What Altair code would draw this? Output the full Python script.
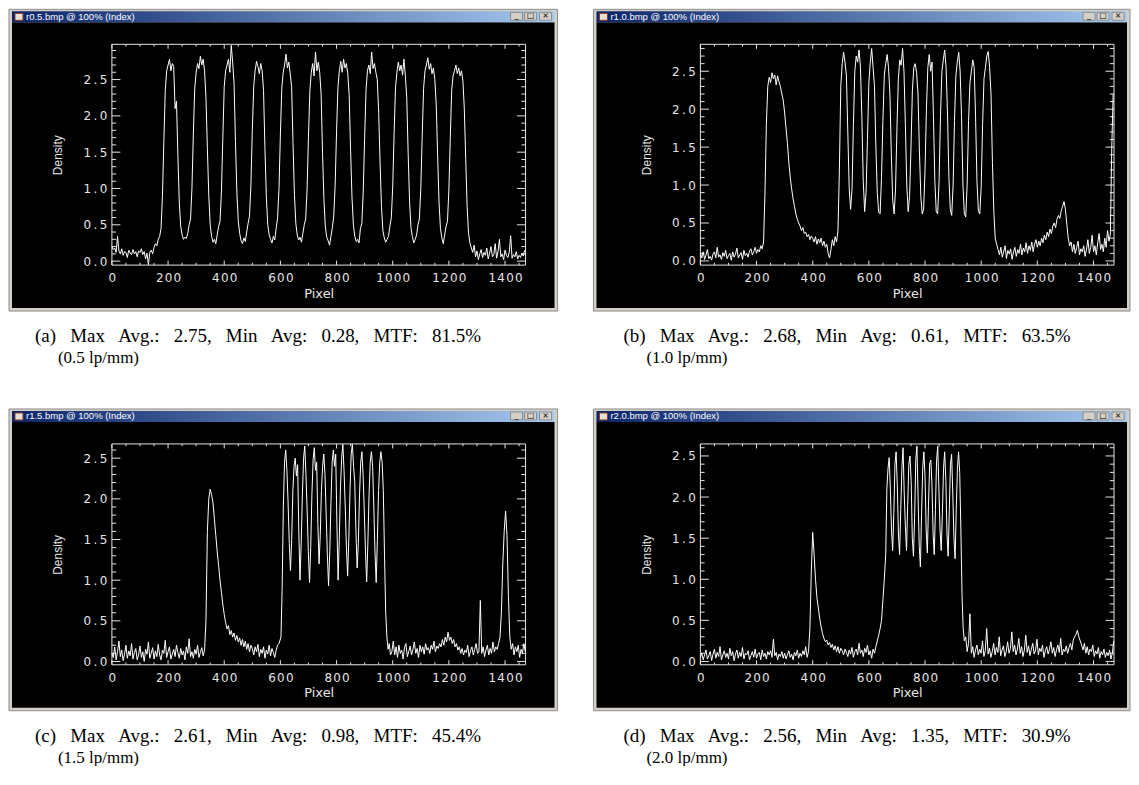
import altair as alt
import pandas as pd

# ---------------- data ----------------
X_DOMAIN = [0, 1473]
X_MAJOR = [0, 200, 400, 600, 800, 1000, 1200, 1400]
X_MINOR = [50, 100, 150, 250, 300, 350, 450, 500, 550, 650, 700, 750, 850, 900, 950,
           1050, 1100, 1150, 1250, 1300, 1350, 1450]
Y_MAJOR = [0.0, 0.5, 1.0, 1.5, 2.0, 2.5]
Y_MINOR = [0.1, 0.2, 0.3, 0.4, 0.6, 0.7, 0.8, 0.9, 1.1, 1.2, 1.3, 1.4, 1.6, 1.7, 1.8, 1.9,
           2.1, 2.2, 2.3, 2.4, 2.6, 2.7, 2.8, 2.9]

WINDOW_TITLES = ["r0.5.bmp @ 100% (Index)", "r1.0.bmp @ 100% (Index)",
                 "r1.5.bmp @ 100% (Index)", "r2.0.bmp @ 100% (Index)"]
CAPTION_1 = ["(a) Max Avg.: 2.75, Min Avg: 0.28, MTF: 81.5%",
             "(b) Max Avg.: 2.68, Min Avg: 0.61, MTF: 63.5%",
             "(c) Max Avg.: 2.61, Min Avg: 0.98, MTF: 45.4%",
             "(d) Max Avg.: 2.56, Min Avg: 1.35, MTF: 30.9%"]
CAPTION_2 = ["(0.5 lp/mm)", "(1.0 lp/mm)", "(1.5 lp/mm)", "(2.0 lp/mm)"]
Y_DOMAINS = [[-0.055, 2.985], [-0.055, 2.855], [-0.04, 2.675], [-0.04, 2.646]]

# each profile: list of (first pixel, last pixel, density samples)
A_SEGS = [
    (0, 170, [0.20, 0.16, 0.18, 0.12, 0.34, 0.14, 0.10, 0.17, 0.08, 0.13, 0.12, 0.05, 0.15, 0.11,
              0.09, 0.16, 0.10, 0.13, 0.06, 0.14, 0.12, 0.17, 0.09, 0.13, 0.03, 0.11, -0.05, 0.12,
              0.15, 0.10, 0.19, 0.24, 0.21, 0.30, 0.34]),
    (175, 275, [0.45, 0.90, 1.65, 2.35, 2.62, 2.70, 2.78, 2.62, 2.72, 2.68, 2.10, 2.20, 1.45, 0.80,
                0.48, 0.36, 0.30, 0.33, 0.31, 0.38, 0.50]),
    (280, 380, [0.58, 1.00, 1.75, 2.38, 2.60, 2.72, 2.65, 2.82, 2.70, 2.78, 2.62, 2.25, 1.55, 0.90,
                0.50, 0.34, 0.26, 0.30, 0.24, 0.36, 0.48]),
    (385, 485, [0.55, 0.95, 1.70, 2.40, 2.62, 2.70, 2.78, 2.60, 2.97, 2.74, 2.45, 1.65, 0.95, 0.55,
                0.38, 0.28, 0.24, 0.32, 0.27, 0.40, 0.52]),
    (490, 585, [0.62, 1.05, 1.80, 2.40, 2.62, 2.75, 2.68, 2.58, 2.72, 2.62, 2.35, 1.55, 0.88, 0.50,
                0.36, 0.30, 0.25, 0.34, 0.29, 0.45]),
    (590, 685, [0.60, 1.00, 1.75, 2.38, 2.60, 2.70, 2.85, 2.66, 2.74, 2.58, 2.40, 1.62, 0.92, 0.52,
                0.36, 0.29, 0.33, 0.26, 0.38, 0.50]),
    (690, 785, [0.58, 0.98, 1.72, 2.35, 2.60, 2.72, 2.55, 2.88, 2.62, 2.74, 2.60, 2.30, 1.50, 0.85,
                0.48, 0.33, 0.28, 0.22, 0.34, 0.46]),
    (790, 885, [0.62, 1.05, 1.78, 2.40, 2.62, 2.75, 2.60, 2.78, 2.66, 2.72, 2.58, 2.28, 1.52, 0.88,
                0.50, 0.34, 0.27, 0.30, 0.25, 0.45]),
    (890, 990, [0.52, 0.95, 1.70, 2.36, 2.62, 2.70, 2.58, 2.88, 2.65, 2.72, 2.60, 2.50, 2.05, 1.35,
                0.75, 0.42, 0.32, 0.26, 0.30, 0.34, 0.48]),
    (995, 1090, [0.60, 1.02, 1.76, 2.40, 2.60, 2.74, 2.62, 2.70, 2.56, 2.78, 2.55, 2.25, 1.48, 0.82,
                 0.46, 0.34, 0.25, 0.30, 0.36, 0.50]),
    (1095, 1190, [0.58, 1.00, 1.72, 2.38, 2.62, 2.70, 2.80, 2.64, 2.72, 2.58, 2.66, 2.50, 2.15, 1.45,
                  0.80, 0.45, 0.32, 0.24, 0.36, 0.48]),
    (1195, 1280, [0.55, 0.98, 1.70, 2.35, 2.55, 2.62, 2.70, 2.58, 2.66, 2.55, 2.62, 2.48, 2.10, 1.40,
                  0.75, 0.38, 0.25, 0.18]),
    (1285, 1470, [0.12, 0.22, 0.06, 0.14, 0.02, 0.10, 0.16, 0.05, 0.12, 0.08, 0.18, 0.03, 0.11, 0.20,
                  0.06, 0.09, 0.24, 0.04, 0.13, 0.30, 0.06, 0.10, 0.02, 0.15, 0.08, 0.05, 0.12, 0.35,
                  0.04, 0.09, 0.06, 0.13, 0.03, 0.08, 0.05, 0.11, 0.07, 0.15]),
]

B_SEGS = [
    (0, 485, [0.10, 0.04, 0.12, 0.02, 0.08, 0.15, 0.03, 0.06, 0.01, 0.09,
              0.12, 0.04, 0.18, 0.05, 0.08, 0.02, 0.11, 0.06, 0.14, 0.03,
              0.07, 0.10, 0.01, 0.12, 0.05, 0.09, 0.17, 0.04, 0.08, 0.11,
              0.02, 0.14, 0.07, 0.10, 0.05, 0.13, 0.16, 0.08, 0.12, 0.18,
              0.10, 0.15, 0.12, 0.20, 0.16, 0.25, 0.90, 1.80, 2.30, 2.42,
              2.35, 2.48, 2.40, 2.45, 2.32, 2.44, 2.36, 2.30, 2.20, 2.12,
              1.95, 1.75, 1.55, 1.30, 1.10, 0.95, 0.82, 0.72, 0.62, 0.55,
              0.50, 0.46, 0.40, 0.44, 0.36, 0.38, 0.32, 0.35, 0.28, 0.33,
              0.30, 0.25, 0.32, 0.22, 0.29, 0.24, 0.30, 0.20, 0.26, 0.18,
              0.22, 0.10, 0.04, 0.15, 0.28, 0.20, 0.32, 0.25]),
    (490, 1050, [0.40, 1.20, 2.30, 2.60, 2.75, 2.62, 2.45, 1.70, 0.95, 0.68,
                 0.95, 1.80, 2.50, 2.70, 2.62, 2.78, 2.55, 1.90, 1.05, 0.65,
                 0.90, 1.60, 2.35, 2.62, 2.80, 2.55, 2.30, 1.50, 0.90, 0.64,
                 0.62, 1.10, 1.85, 2.45, 2.60, 2.72, 2.55, 2.20, 1.40, 0.80,
                 0.62, 0.95, 1.75, 2.40, 2.65, 2.58, 2.80, 2.50, 1.80, 1.00,
                 0.65, 0.85, 1.50, 2.25, 2.55, 2.60, 2.48, 2.20, 1.45, 0.85,
                 0.62, 0.68, 1.20, 2.00, 2.55, 2.72, 2.50, 2.62, 1.90, 1.05,
                 0.65, 0.62, 1.05, 1.90, 2.50, 2.65, 2.78, 2.55, 1.95, 1.10,
                 0.68, 0.60, 1.00, 1.85, 2.45, 2.62, 2.75, 2.50, 1.90, 1.00,
                 0.62, 0.58, 1.00, 1.85, 2.35, 2.50, 2.65, 2.55, 1.90, 1.05,
                 0.66, 0.62, 0.98, 1.80, 2.40, 2.55, 2.70, 2.76, 2.55, 2.20,
                 1.30, 0.65, 0.30]),
    (1055, 1470, [0.22, 0.15, 0.08, 0.18, 0.05, 0.12, 0.20, 0.03, 0.14, 0.09,
                  0.16, 0.02, 0.12, 0.18, 0.06, 0.15, 0.10, 0.22, 0.08, 0.17,
                  0.12, 0.24, 0.10, 0.20, 0.14, 0.25, 0.12, 0.22, 0.28, 0.18,
                  0.26, 0.20, 0.30, 0.24, 0.34, 0.28, 0.38, 0.32, 0.42, 0.36,
                  0.46, 0.50, 0.44, 0.55, 0.60, 0.56, 0.66, 0.72, 0.78, 0.68,
                  0.48, 0.30, 0.20, 0.25, 0.12, 0.22, 0.10, 0.18, 0.26, 0.08,
                  0.16, 0.12, 0.20, 0.06, 0.15, 0.28, 0.10, 0.18, 0.34, 0.12,
                  0.20, 0.08, 0.24, 0.36, 0.15, 0.22, 0.12, 0.30, 0.18, 0.40,
                  0.26, 0.35, 1.50, 2.20]),
]

C_SEGS = [
    (0, 330, [0.10, 0.05, 0.18, 0.02, 0.12, 0.25, 0.06, 0.14, 0.01, 0.09,
              0.20, 0.04, 0.13, 0.07, 0.22, 0.03, 0.11, 0.16, 0.02, 0.08,
              0.19, 0.05, 0.12, 0.00, 0.15, 0.09, 0.24, 0.04, 0.10, 0.17,
              0.03, 0.13, 0.06, 0.21, 0.08, 0.02, 0.14, 0.10, 0.26, 0.05,
              0.12, 0.18, 0.03, 0.09, 0.15, 0.06, 0.20, 0.11, 0.04, 0.16,
              0.08, 0.13, 0.02, 0.18, 0.10, 0.28, 0.06, 0.12, 0.04, 0.15,
              0.09, 0.20, 0.05, 0.11, 0.17, 0.07, 0.14]),
    (335, 595, [0.50, 1.60, 2.00, 2.12, 2.05, 1.95, 1.75, 1.55, 1.35, 1.18,
                1.00, 0.85, 0.70, 0.58, 0.48, 0.40, 0.44, 0.33, 0.38, 0.30,
                0.35, 0.26, 0.32, 0.24, 0.29, 0.20, 0.27, 0.18, 0.25, 0.15,
                0.22, 0.12, 0.20, 0.16, 0.08, 0.18, 0.12, 0.21, 0.06, 0.15,
                0.10, 0.18, 0.04, 0.14, 0.09, 0.20, 0.07, 0.16, 0.11, 0.05,
                0.14, 0.20, 0.22]),
    (602, 992, [0.30, 0.90, 1.90, 2.45, 2.60, 2.35, 1.95, 1.45,
                1.12, 1.50, 2.10, 2.40, 2.50, 2.28, 2.42, 1.60,
                1.00, 1.45, 2.05, 2.50, 2.65, 2.30, 1.85, 1.35,
                0.97, 1.40, 2.05, 2.48, 2.63, 2.35, 2.45, 1.70,
                1.20, 1.55, 2.10, 2.40, 2.55, 2.30, 1.80, 1.30,
                0.93, 1.35, 1.95, 2.45, 2.60, 2.40, 2.55, 1.70,
                1.00, 1.50, 2.15, 2.50, 2.67, 2.35, 1.90, 1.40,
                1.05, 1.50, 2.10, 2.55, 2.67, 2.40, 2.20, 1.60,
                1.15, 1.45, 2.05, 2.45, 2.58, 2.30, 1.85, 1.35,
                0.98, 1.45, 2.05, 2.45, 2.58, 2.40, 1.90, 1.35,
                0.97, 1.50, 2.10, 2.45, 2.58, 2.45, 2.10, 1.30,
                0.60, 0.30, 0.15, 0.22, 0.08]),
    (997, 1472, [0.12, 0.25, 0.08, 0.18, 0.05, 0.20, 0.10, 0.14, 0.03, 0.17,
                 0.22, 0.06, 0.12, 0.19, 0.08, 0.15, 0.24, 0.10, 0.16, 0.05,
                 0.20, 0.12, 0.18, 0.09, 0.22, 0.14, 0.17, 0.10, 0.20, 0.15,
                 0.25, 0.12, 0.19, 0.16, 0.22, 0.18, 0.27, 0.20, 0.30, 0.24,
                 0.36, 0.26, 0.30, 0.22, 0.27, 0.18, 0.22, 0.14, 0.18, 0.10,
                 0.16, 0.08, 0.14, 0.11, 0.20, 0.06, 0.13, 0.18, 0.08, 0.15,
                 0.22, 0.10, 0.12, 0.75, 0.10, 0.18, 0.06, 0.14, 0.20, 0.08,
                 0.16, 0.10, 0.24, 0.12, 0.18, 0.15, 0.22, 0.30, 0.60, 1.20,
                 1.60, 1.85, 1.55, 0.80, 0.30, 0.15, 0.22, 0.08, 0.18, 0.12,
                 0.20, 0.05, 0.15, 0.10, 0.22, 0.12]),
]

D_SEGS = [
    (0, 385, [0.05, 0.10, 0.02, 0.08, 0.14, 0.03, 0.07, 0.12, 0.01, 0.09,
              0.15, 0.04, 0.11, 0.06, 0.18, 0.02, 0.08, 0.13, 0.05, 0.10,
              0.03, 0.16, 0.07, 0.12, 0.01, 0.09, 0.14, 0.04, 0.11, 0.06,
              0.17, 0.03, 0.10, 0.08, 0.13, 0.02, 0.07, 0.12, 0.05, 0.15,
              0.04, 0.09, 0.11, 0.02, 0.14, 0.06, 0.10, 0.03, 0.12, 0.08,
              0.13, 0.05, 0.27, 0.07, 0.11, 0.02, 0.09, 0.06, 0.12, 0.04,
              0.10, 0.03, 0.08, 0.13, 0.05, 0.09, 0.02, 0.11, 0.07, 0.14,
              0.04, 0.10, 0.06, 0.13, 0.08, 0.18, 0.05, 0.12]),
    (390, 655, [0.40, 1.10, 1.57, 1.30, 1.00, 0.78, 0.65, 0.52, 0.42, 0.34,
                0.28, 0.24, 0.26, 0.20, 0.23, 0.17, 0.21, 0.14, 0.19, 0.12,
                0.18, 0.10, 0.16, 0.13, 0.08, 0.15, 0.11, 0.06, 0.14, 0.09,
                0.17, 0.05, 0.12, 0.15, 0.08, 0.22, 0.10, 0.14, 0.06, 0.16,
                0.11, 0.20, 0.08, 0.13, 0.04, 0.15, 0.10, 0.18, 0.25, 0.32,
                0.40, 0.50, 0.75, 1.00]),
    (660, 940, [1.30, 2.10, 2.35, 2.48, 2.10, 1.60,
                1.35, 1.80, 2.40, 2.55, 2.15, 1.55,
                1.30, 1.85, 2.35, 2.60, 2.05, 1.65,
                1.35, 1.90, 2.40, 2.50, 2.20, 1.50,
                1.28, 1.75, 2.45, 2.62, 2.00, 1.40,
                1.15, 1.80, 2.35, 2.55, 2.25, 1.60,
                1.32, 1.90, 2.40, 2.45, 2.15, 1.55,
                1.30, 1.85, 2.45, 2.62, 2.10, 1.60,
                1.35, 1.80, 2.35, 2.55, 2.20, 1.55,
                1.28, 1.85, 2.40, 2.52, 2.05, 1.50,
                1.25, 1.85, 2.35, 2.55, 2.30, 1.60,
                0.80, 0.40, 0.25]),
    (945, 1472, [0.30, 0.12, 0.22, 0.58, 0.10, 0.18, 0.05, 0.14, 0.20, 0.08,
                 0.15, 0.10, 0.25, 0.06, 0.13, 0.40, 0.09, 0.16, 0.05, 0.12,
                 0.22, 0.08, 0.17, 0.11, 0.30, 0.07, 0.14, 0.19, 0.06, 0.12,
                 0.24, 0.10, 0.16, 0.36, 0.12, 0.20, 0.08, 0.15, 0.28, 0.10,
                 0.18, 0.06, 0.14, 0.32, 0.11, 0.19, 0.07, 0.15, 0.22, 0.09,
                 0.14, 0.27, 0.08, 0.16, 0.12, 0.20, 0.05, 0.13, 0.18, 0.09,
                 0.15, 0.24, 0.10, 0.17, 0.06, 0.14, 0.20, 0.11, 0.28, 0.08,
                 0.15, 0.12, 0.19, 0.10, 0.17, 0.22, 0.14, 0.26, 0.30, 0.33,
                 0.38, 0.30, 0.25, 0.20, 0.14, 0.22, 0.10, 0.18, 0.08, 0.15,
                 0.12, 0.20, 0.06, 0.13, 0.09, 0.17, 0.04, 0.12, 0.08, 0.15,
                 0.05, 0.11, 0.07, 0.14, 0.03, 0.10, 0.25]),
]

PROFILES = [A_SEGS, B_SEGS, C_SEGS, D_SEGS]

# ---------------- styling / layout ----------------
FG = "#e6e6e6"
W, H = 414, 221
ONE = pd.DataFrame({"k": [0]})
GRAD = alt.LinearGradient(
    gradient="linear",
    stops=[alt.GradientStop(color="#0a246a", offset=0),
           alt.GradientStop(color="#a6caf0", offset=1)],
    x1=0, x2=1, y1=0, y2=0)
GAP = "\u00a0\u00a0 "
THIN = "\u2009"
HAIR = "\u200a"


def build(segs):
    xs, ys = [], []
    for x0, x1, vals in segs:
        n = len(vals)
        step = (x1 - x0) / (n - 1)
        for i, v in enumerate(vals):
            xs.append(x0 + i * step)
            ys.append(v)
    return pd.DataFrame({"pixel": xs, "density": ys})


def deco_rect(x0, x1, y0, y1, **kw):
    return alt.Chart(ONE).mark_rect(**kw).encode(
        x=alt.value(x0), x2=alt.value(x1), y=alt.value(y0), y2=alt.value(y1))


def deco_text(txt, x, y, **kw):
    return alt.Chart(ONE).mark_text(text=txt, **kw).encode(x=alt.value(x), y=alt.value(y))


def panel(k, left):
    df = build(PROFILES[k])
    ydom = Y_DOMAINS[k]
    xs = alt.Scale(domain=X_DOMAIN, nice=False, zero=False)
    ys = alt.Scale(domain=ydom, nice=False, zero=False)
    ax_x = alt.Axis(
        values=X_MAJOR, format="d", title="Pixel", ticks=False, domain=False,
        labelExpr="join(split(datum.label, ''), '" + HAIR + "')",
        grid=False, labelColor=FG, labelFont="DejaVu Sans", labelFontSize=12,
        labelBaseline="middle", labelPadding=12.5, labelFlush=False, labelOverlap=False,
        titleColor=FG, titleFont="DejaVu Sans", titleFontSize=13, titleFontWeight="normal",
        titleX=W / 2, titleY=28, titleBaseline="middle", titleAlign="center", zindex=1)
    ax_y = alt.Axis(
        values=Y_MAJOR, format=".1f", title="Density", ticks=False, domain=False,
        labelExpr="join(split(datum.label, ''), '" + THIN + "')",
        grid=False, labelColor=FG, labelFont="DejaVu Sans", labelFontSize=12,
        labelPadding=5, labelFlush=False, labelOverlap=False,
        titleColor=FG, titleFont="Liberation Sans", titleFontSize=12, titleFontWeight="normal",
        titleX=-54, titleY=H / 2, titleBaseline="middle", titleAlign="center", zindex=1)

    wx0, wx1 = (-103, 446) if left else (-107, 430)
    wy0, wy1 = -35, 267

    layers = [
        deco_rect(wx0, wx1, wy0, wy1, fill="#d4d0c8", stroke="#8c8c8c", strokeWidth=1),
        deco_rect(wx0 + 3, wx1 - 3, -22, wy1 - 3, fill="black"),
        deco_rect(wx0 + 3, wx1 - 3, -33, -22, fill=GRAD),
        deco_rect(wx0 + 6, wx0 + 14, -31, -24, fill="#e8e0d0", stroke="#8a3a2a", strokeWidth=1),
        deco_text(WINDOW_TITLES[k], wx0 + 17, -27.5, align="left", baseline="middle",
                  color="white", font="Liberation Sans", fontSize=9.5),
    ]
    for bx0, bx1, glyph in [(wx1 - 47, wx1 - 35, "_"), (wx1 - 33, wx1 - 21, "\u25a1"),
                            (wx1 - 18, wx1 - 6, "\u00d7")]:
        layers.append(deco_rect(bx0, bx1, -32, -24, fill="#d4d0c8", stroke="#808080", strokeWidth=0.8))
        layers.append(deco_text(glyph, (bx0 + bx1) / 2, -28, align="center", baseline="middle",
                                color="black", font="DejaVu Sans", fontSize=8))

    # plot frame
    layers.append(deco_rect(0, W, 0, H, fill="black", fillOpacity=0, stroke=FG, strokeWidth=1))

    def xt(vals, y0, y1):
        return alt.Chart(pd.DataFrame({"pixel": vals})).mark_rule(color=FG, strokeWidth=1).encode(
            x=alt.X("pixel:Q", scale=xs, axis=ax_x), y=alt.value(y0), y2=alt.value(y1))

    def yt(vals, x0, x1):
        return alt.Chart(pd.DataFrame({"density": vals})).mark_rule(color=FG, strokeWidth=1).encode(
            y=alt.Y("density:Q", scale=ys, axis=ax_y), x=alt.value(x0), x2=alt.value(x1))

    yminor = [v for v in Y_MINOR if v < ydom[1]]
    layers += [
        xt(X_MAJOR, H - 4.5, H), xt(X_MAJOR, 0, 4.5),
        xt(X_MINOR, H - 2.3, H), xt(X_MINOR, 0, 2.3),
        yt(Y_MAJOR, 0, 8.5), yt(Y_MAJOR, W - 8.5, W),
        yt(yminor, 0, 4.2), yt(yminor, W - 4.2, W),
    ]

    line = alt.Chart(df).mark_line(color="white", strokeWidth=1).encode(
        x=alt.X("pixel:Q", scale=xs, axis=ax_x),
        y=alt.Y("density:Q", scale=ys, axis=ax_y),
    )
    layers.append(line)

    layers.append(deco_text(CAPTION_1[k].replace(" ", GAP), -77, 292, align="left",
                            baseline="middle", color="black", font="Liberation Serif", fontSize=19))
    layers.append(deco_text(CAPTION_2[k], -54, 314, align="left", baseline="middle",
                            color="black", font="Liberation Serif", fontSize=17))
    return alt.layer(*layers).properties(width=W, height=H)


chart = alt.concat(
    panel(0, True), panel(1, False), panel(2, True), panel(3, False),
    columns=2, spacing={"row": 179, "column": 175}, bounds="flush",
).properties(padding=0).configure_view(strokeWidth=0)

chart.save("out.html", embed_options={"renderer": "svg", "actions": False})
